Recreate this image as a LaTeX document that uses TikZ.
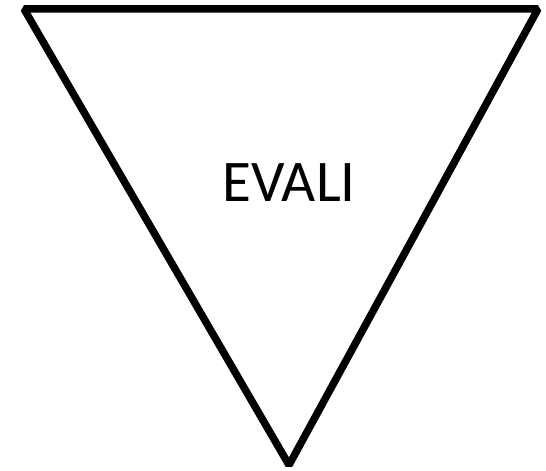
\documentclass[tikz,border=0pt]{standalone}
\usepackage{fontspec}
\setmainfont{Carlito}
\begin{document}
\begin{tikzpicture}[x=1pt,y=1pt,
  tri/.style={draw=black,line width=7.5pt,line join=bevel},
  lbl/.style={font=\fontsize{59}{70}\selectfont,inner sep=0pt}]
\useasboundingbox (0,0) rectangle (546,471);
\coordinate (tl) at (24,462);
\coordinate (tr) at (538,462);
\coordinate (bt) at (289,6);
\draw[tri] (tl) -- (tr) -- (bt) -- cycle;
\node[lbl,anchor=base] (label) at (289,269) {EVALI};
\end{tikzpicture}
\end{document}
